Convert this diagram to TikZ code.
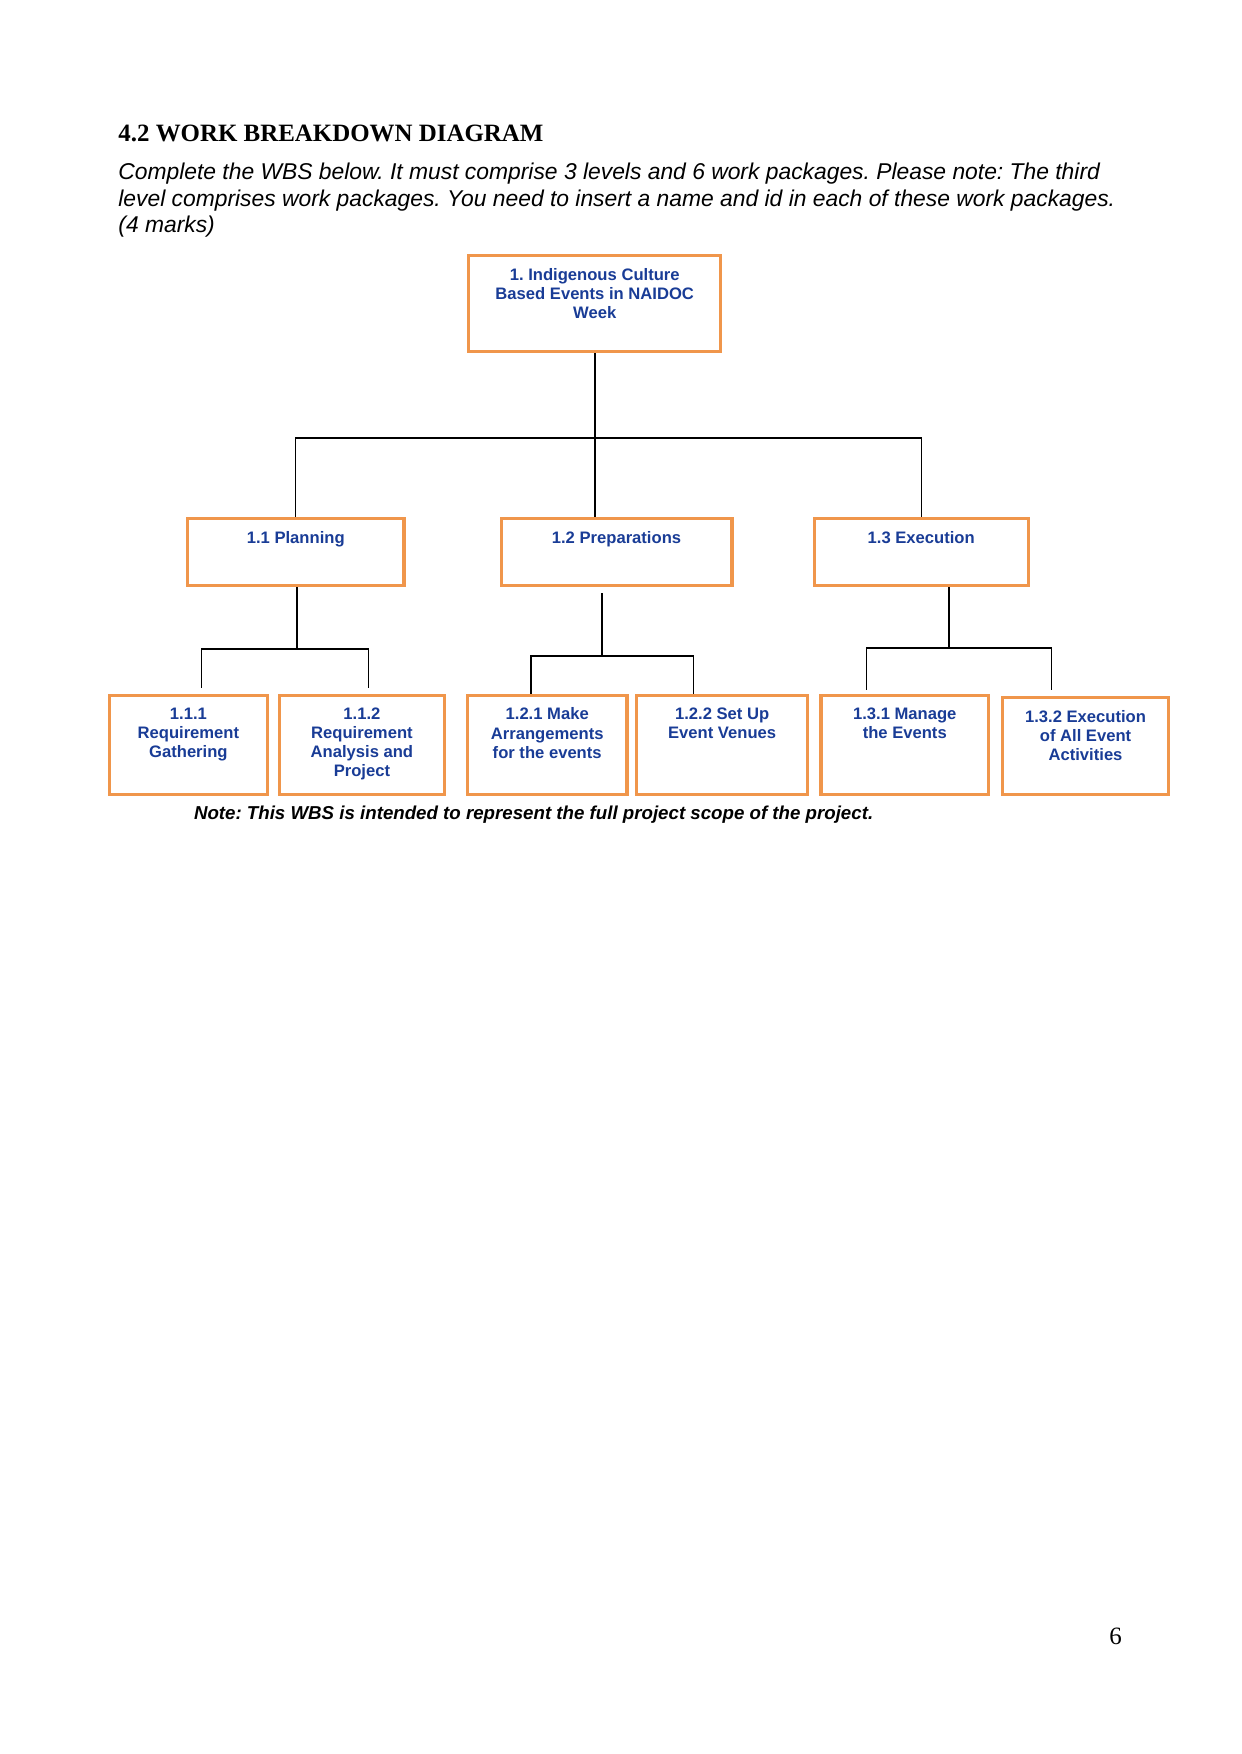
\documentclass[tikz,border=0pt]{standalone}
\usepackage{fontspec}
\setmainfont{Liberation Serif}
\setsansfont{Liberation Sans}
\usetikzlibrary{positioning}

\definecolor{wbsorange}{RGB}{240,150,75}
\definecolor{wbsblue}{RGB}{25,60,150}
\frenchspacing

\begin{document}
\begin{tikzpicture}[
    x=0.16923mm, y=-0.16923mm,
    wbox/.style={rectangle, draw=wbsorange, line width=1.6pt, inner sep=0pt, anchor=north west},
    toprow/.style={wbox, minimum width=121.4pt, minimum height=46.1pt},
    midrow/.style={wbox, minimum height=32.1pt},
    lowrow/.style={wbox, minimum height=47.8pt},
    wtext/.style={inner sep=0pt, align=center, text=wbsblue, font=\sffamily\bfseries\fontsize{8}{9.2}\selectfont},
    link/.style={draw=black, line width=0.5pt},
]
    \useasboundingbox (0,0) rectangle (1241,1754);

    % Heading and instructions
    \node (title) [anchor=base west, inner sep=0pt, font=\bfseries\fontsize{12}{14}\selectfont] at (118,141) {4.2 WORK BREAKDOWN DIAGRAM};
    \node (instr) [anchor=north west, inner sep=0pt, align=left, font=\sffamily\itshape\fontsize{11}{12.65}\selectfont] at (118,163)
        {Complete the WBS below. It must comprise 3 levels and 6 work packages. Please note: The third\\
         level comprises work packages. You need to insert a name and id in each of these work packages.\\
         (4 marks)};

    % Level 1
    \node (root) [toprow] at (467,254) {};
    \node (roottxt) [wtext, below=6.6pt of root.north] {1. Indigenous Culture\\Based Events in NAIDOC\\Week};

    % Level 2
    \node (plan) [midrow, minimum width=104.1pt] at (186,517) {};
    \node (prep) [midrow, minimum width=111.1pt] at (499.5,517) {};
    \node (exec) [midrow, minimum width=103.1pt] at (812.5,517) {};
    \node (plantxt) [wtext, below=6.6pt of plan.north] {1.1 Planning};
    \node (preptxt) [wtext, below=6.6pt of prep.north] {1.2 Preparations};
    \node (exectxt) [wtext, below=6.6pt of exec.north] {1.3 Execution};

    % Level 3 (work packages)
    \node (r111) [lowrow, minimum width=76.3pt] at (107.5,693.8) {};
    \node (r112) [lowrow, minimum width=79.4pt] at (277.8,693.8) {};
    \node (r121) [lowrow, minimum width=76.8pt] at (465.8,693.8) {};
    \node (r122) [lowrow, minimum width=82.5pt] at (634.8,693.8) {};
    \node (r131) [lowrow, minimum width=80.6pt] at (819.4,693.8) {};
    \node (r132) [lowrow, minimum width=80.1pt, minimum height=46.7pt] at (1000.7,696) {};
    \node (r111txt) [wtext, below=6.6pt of r111.north] {1.1.1\\Requirement\\Gathering};
    \node (r112txt) [wtext, below=6.6pt of r112.north] {1.1.2\\Requirement\\Analysis and\\Project};
    \node (r121txt) [wtext, below=6.6pt of r121.north] {1.2.1 Make\\Arrangements\\for the events};
    \node (r122txt) [wtext, below=6.6pt of r122.north] {1.2.2 Set Up\\Event Venues};
    \node (r131txt) [wtext, below=6.6pt of r131.north] {1.3.1 Manage\\the Events};
    \node (r132txt) [wtext, below=6.6pt of r132.north] {1.3.2 Execution\\of All Event\\Activities};

    % Connectors level 1 -> 2
    \coordinate (bus1) at (595,438);
    \draw [link] (root.south -| bus1) -- (bus1);
    \draw [link] (plan.north) |- (bus1) -| (exec.north);
    \draw [link] (bus1) -- (bus1 |- prep.north);

    % Connectors level 2 -> 3
    \coordinate (bus11) at (297,649);
    \coordinate (bus12) at (602,656);
    \coordinate (bus13) at (949,648);
    \draw [link] (plan.south -| bus11) -- (bus11);
    \draw [link] ([xshift=6.4pt,yshift=3pt]r111.north) |- (bus11) -| ([xshift=3.3pt,yshift=3pt]r112.north);
    \draw [link] ([yshift=-3pt]prep.south -| bus12) -- (bus12);
    \draw [link] ([xshift=-7.8pt]r121.north) |- (bus12) -| ([xshift=-14pt]r122.north);
    \draw [link] (exec.south -| bus13) -- (bus13);
    \draw [link] ([xshift=-18.2pt,yshift=2pt]r131.north) |- (bus13) -| ([xshift=-16.3pt,yshift=3pt]r132.north);

    % Note and page number
    \node (note) [anchor=base west, inner sep=0pt, font=\sffamily\bfseries\itshape\fontsize{9}{11}\selectfont] at (193.6,819)
        {Note: This WBS is intended to represent the full project scope of the project.};
    \node (pagenum) [anchor=base, inner sep=0pt, font=\fontsize{12}{14}\selectfont] at (1115.7,1644) {6};
\end{tikzpicture}
\end{document}
